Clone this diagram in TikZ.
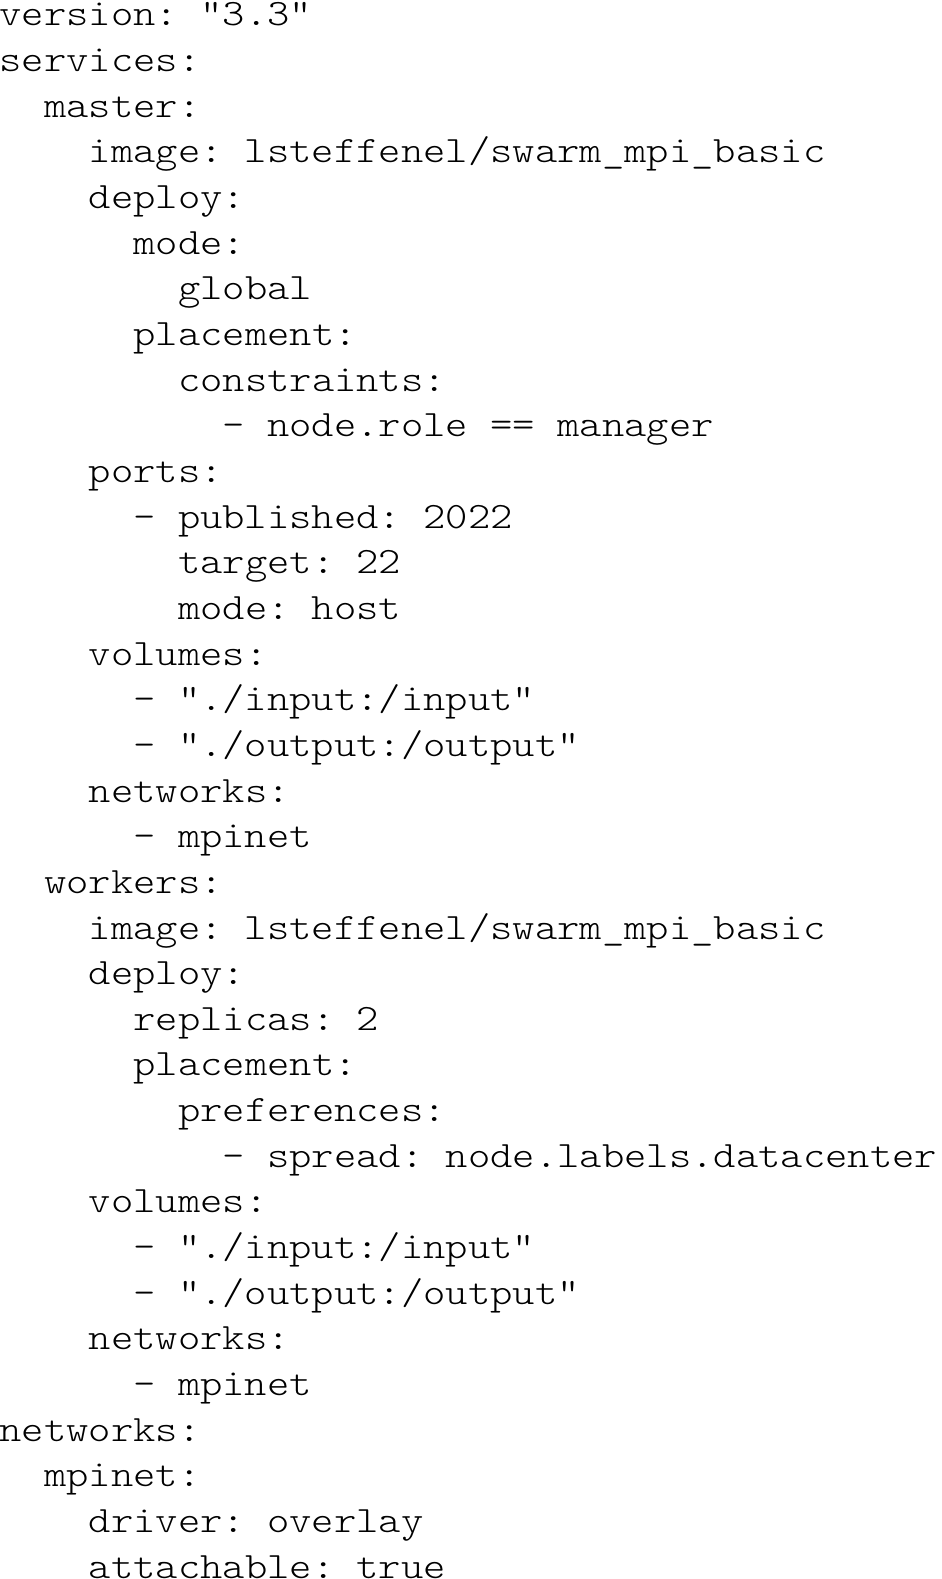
\documentclass[tikz,border=0pt]{standalone}
\usepackage{fontspec}
\newfontfamily\codefont{lmmonolt10-regular.otf}[FakeStretch=1.143,PunctuationSpace=WordSpace]
\begin{document}
\frenchspacing
\begin{tikzpicture}[x=1pt,y=1pt,
  codeline/.style={anchor=base west,inner sep=0pt,outer sep=0pt,font=\codefont\fontsize{37.2}{45.65}\selectfont\frenchspacing}]
\useasboundingbox (0,0) rectangle (942,-1579);
\def\cw{22.32}
\def\lh{45.65}
\newcommand{\cl}[4]{\node[codeline] (#1) at ({#3*\cw-0.5},{-(26+(#2-1)*\lh)}) {#4};}
\cl{l1}{1}{0}{version: "3.3"}
\cl{l2}{2}{0}{services:}
\cl{l3}{3}{2}{master:}
\cl{l4}{4}{4}{image: lsteffenel/swarm\_mpi\_basic}
\cl{l5}{5}{4}{deploy:}
\cl{l6}{6}{6}{mode:}
\cl{l7}{7}{8}{global}
\cl{l8}{8}{6}{placement:}
\cl{l9}{9}{8}{constraints:}
\cl{l10}{10}{10}{- node.role == manager}
\cl{l11}{11}{4}{ports:}
\cl{l12}{12}{6}{- published: 2022}
\cl{l13}{13}{8}{target: 22}
\cl{l14}{14}{8}{mode: host}
\cl{l15}{15}{4}{volumes:}
\cl{l16}{16}{6}{- "./input:/input"}
\cl{l17}{17}{6}{- "./output:/output"}
\cl{l18}{18}{4}{networks:}
\cl{l19}{19}{6}{- mpinet}
\cl{l20}{20}{2}{workers:}
\cl{l21}{21}{4}{image: lsteffenel/swarm\_mpi\_basic}
\cl{l22}{22}{4}{deploy:}
\cl{l23}{23}{6}{replicas: 2}
\cl{l24}{24}{6}{placement:}
\cl{l25}{25}{8}{preferences:}
\cl{l26}{26}{10}{- spread: node.labels.datacenter}
\cl{l27}{27}{4}{volumes:}
\cl{l28}{28}{6}{- "./input:/input"}
\cl{l29}{29}{6}{- "./output:/output"}
\cl{l30}{30}{4}{networks:}
\cl{l31}{31}{6}{- mpinet}
\cl{l32}{32}{0}{networks:}
\cl{l33}{33}{2}{mpinet:}
\cl{l34}{34}{4}{driver: overlay}
\cl{l35}{35}{4}{attachable: true}
\end{tikzpicture}
\end{document}
